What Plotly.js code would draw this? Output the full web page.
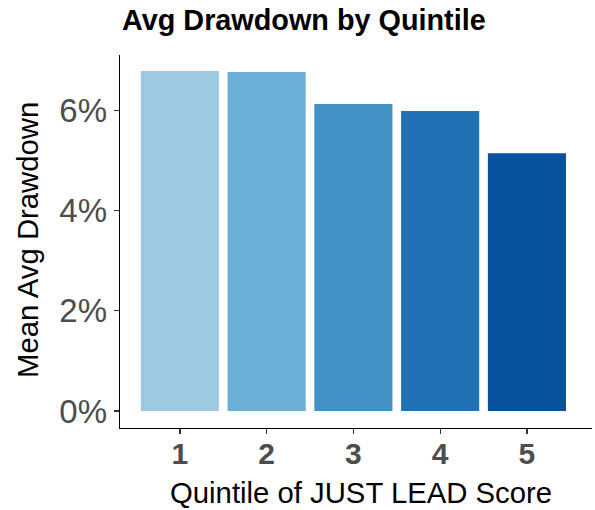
<!DOCTYPE html>
<html>
<head>
<meta charset="utf-8">
<script src="https://cdn.plot.ly/plotly-3.0.1.min.js"></script>
<style>html,body{margin:0;padding:0;background:#fff;}#chart{width:595px;height:510px;}</style>
</head>
<body>
<div id="chart"></div>
<script>
const quintiles = [1, 2, 3, 4, 5];
const meanAvgDrawdown = [6.79, 6.77, 6.13, 5.99, 5.15];
const barColors = ['#9ecae1', '#6baed6', '#4292c6', '#2171b5', '#08519c'];
const yTickVals = [0, 2, 4, 6];
const yTickText = ['0%', '2%', '4%', '6%'];

const trace = {
  type: 'bar',
  x: quintiles,
  y: meanAvgDrawdown,
  width: 0.9,
  marker: {color: barColors, line: {width: 0}},
  hoverinfo: 'none'
};

const plotTop = 55, plotBottom = 428, plotLeft = 120;
const plotH = plotBottom - plotTop;
const plotW = 592 - plotLeft;

const layout = {
  width: 595, height: 510,
  margin: {l: 120, r: 3, t: 55, b: 82},
  paper_bgcolor: '#ffffff', plot_bgcolor: '#ffffff',
  showlegend: false,
  font: {family: 'Liberation Sans, Arial, sans-serif'},
  title: {
    text: '<b>Avg Drawdown by Quintile</b>',
    font: {size: 28.8, color: '#000000', family: 'Liberation Sans, Arial, sans-serif'},
    xref: 'container', x: 122/595, xanchor: 'left',
    yref: 'container', y: 1 - 20/510, yanchor: 'middle'
  },
  xaxis: {
    range: [0.31, 5.75],
    tickvals: quintiles,
    ticktext: quintiles.map(q => '<b>' + q + '</b>'),
    tickfont: {size: 30, color: '#4d4d4d'},
    ticklabelstandoff: -6,
    ticks: 'outside', ticklen: 5, tickwidth: 1.3, tickcolor: '#333333',
    showline: true, linecolor: '#000000', linewidth: 1.4,
    showgrid: false, zeroline: false, fixedrange: true
  },
  yaxis: {
    range: [-0.34, 7.11],
    tickvals: yTickVals,
    ticktext: yTickText,
    tickfont: {size: 33, color: '#4d4d4d'},
    ticks: 'outside', ticklen: 5, tickwidth: 1.3, tickcolor: '#333333',
    showline: true, linecolor: '#000000', linewidth: 1.4,
    showgrid: false, zeroline: false, fixedrange: true
  },
  annotations: [
    {
      text: 'Quintile of JUST LEAD Score',
      xref: 'paper', yref: 'paper',
      x: (361 - plotLeft) / plotW, xanchor: 'center',
      y: (plotBottom - 493) / plotH, yanchor: 'middle',
      showarrow: false,
      font: {size: 29.3, color: '#000000'}
    },
    {
      text: 'Mean Avg Drawdown',
      textangle: -90,
      xref: 'paper', yref: 'paper',
      x: (27 - plotLeft) / plotW, xanchor: 'center',
      y: (plotBottom - 240) / plotH, yanchor: 'middle',
      showarrow: false,
      font: {size: 29.3, color: '#000000'}
    }
  ]
};

Plotly.newPlot('chart', [trace], layout, {displayModeBar: false, staticPlot: true});
</script>
</body>
</html>
